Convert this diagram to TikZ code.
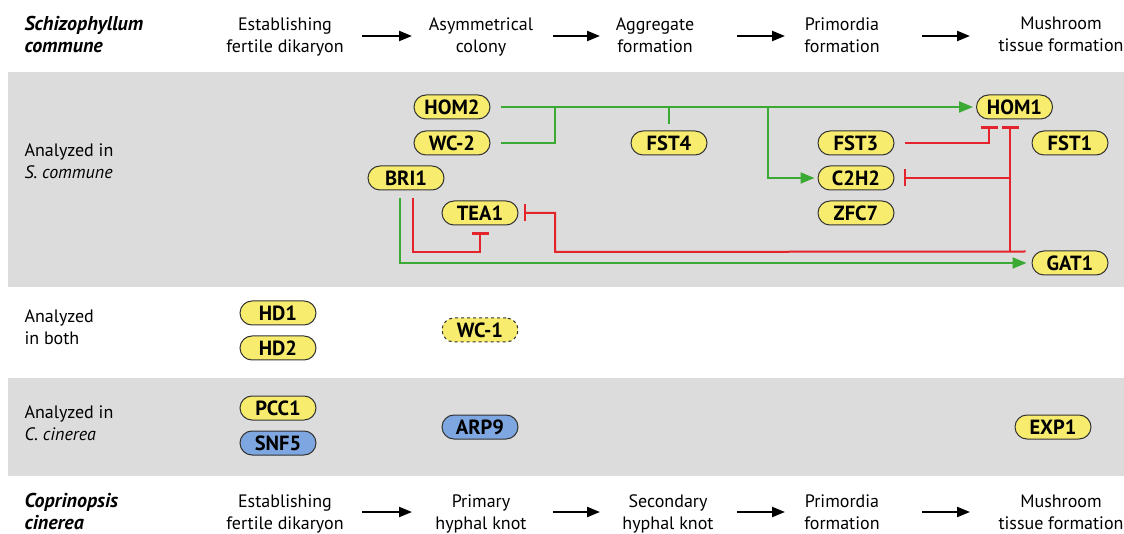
\documentclass[tikz,border=0pt]{standalone}
\usepackage{fontspec}
\setmainfont{PT Sans}
\usetikzlibrary{arrows.meta,calc}
\definecolor{band}{HTML}{DCDCDC}
\definecolor{pillY}{HTML}{F7EC6E}
\definecolor{pillB}{HTML}{7EA6E0}
\definecolor{grn}{HTML}{3BAA35}
\definecolor{rd}{HTML}{E3242B}
\begin{document}
\begin{tikzpicture}[x=1pt,y=-1pt,
 pill/.style={draw=black!80, line width=1pt, fill=pillY, rounded corners=12pt, minimum width=76pt, minimum height=24pt, inner sep=0pt, font=\fontsize{20.5}{21}\selectfont\bfseries},
 bluepill/.style={pill, fill=pillB},
 act/.style={draw=grn, line width=2pt, -{Triangle[length=14pt,width=11pt]}},
 actline/.style={draw=grn, line width=2pt},
 inh/.style={draw=rd, line width=2pt, -{Bar[width=17pt,line width=2.4pt]}},
 hdr/.style={font=\fontsize{18}{22}\selectfont, align=center, execute at begin node=\strut, execute at end node=\strut},
 side/.style={font=\fontsize{18}{22}\selectfont, align=left, anchor=west, execute at begin node=\strut, execute at end node=\strut},
 spec/.style={side, font=\fontsize{20}{22}\selectfont\bfseries\itshape},
 stage/.style={draw=black, -{Triangle[length=13pt,width=10pt]}, line width=2.2pt}
]
\useasboundingbox (0,0) rectangle (1124,534);
\fill[band] (8,72) rectangle (1124,287);
\fill[band] (8,378) rectangle (1124,476);

% headers top
\node[spec] (sc) at (21,38) {Schizophyllum\\commune};
\node[hdr] (t1) at (285,38) {Establishing\\fertile dikaryon};
\node[hdr] (t2) at (481,38) {Asymmetrical\\colony};
\node[hdr] (t3) at (655,38) {Aggregate\\formation};
\node[hdr] (t4) at (842,38) {Primordia\\formation};
\node[hdr] (t5) at (1061,38) {Mushroom\\tissue formation};
\coordinate (ta1) at (362,36); \coordinate (tb1) at (412,36);
\coordinate (ta2) at (553,36); \coordinate (tb2) at (600,36);
\coordinate (ta3) at (737,36); \coordinate (tb3) at (785,36);
\coordinate (ta4) at (922,36); \coordinate (tb4) at (970,36);
\foreach \i in {1,...,4} {\draw[stage] (ta\i) -- (tb\i);}

% headers bottom
\node[spec] (cc) at (21,515) {Coprinopsis\\cinerea};
\node[hdr] (u1) at (285,515) {Establishing\\fertile dikaryon};
\node[hdr] (u2) at (481,515) {Primary\\hyphal knot};
\node[hdr] (u3) at (668,515) {Secondary\\hyphal knot};
\node[hdr] (u4) at (842,515) {Primordia\\formation};
\node[hdr] (u5) at (1061,515) {Mushroom\\tissue formation};
\coordinate (ua1) at (362,512); \coordinate (ub1) at (412,512);
\coordinate (ua2) at (553,512); \coordinate (ub2) at (600,512);
\coordinate (ua3) at (737,512); \coordinate (ub3) at (785,512);
\coordinate (ua4) at (922,512); \coordinate (ub4) at (970,512);
\foreach \i in {1,...,4} {\draw[stage] (ua\i) -- (ub\i);}

% side labels
\node[side] (l1) at (21,164) {Analyzed in\\\textit{S. commune}};
\node[side] (l2) at (21,330) {Analyzed\\in both};
\node[side] (l3) at (21,426) {Analyzed in\\\textit{C. cinerea}};

% nodes
\node[pill] (HOM2) at (452,107) {HOM2};
\node[pill] (WC2) at (452,143) {WC-2};
\node[pill] (BRI1) at (406,178) {BRI1};
\node[pill] (TEA1) at (480,213) {TEA1};
\node[pill] (FST4) at (669,143) {FST4};
\node[pill] (HOM1) at (1014.5,107) {HOM1};
\node[pill] (FST3) at (856,143) {FST3};
\node[pill] (FST1) at (1070,143) {FST1};
\node[pill] (C2H2) at (856,178) {C2H2};
\node[pill] (ZFC7) at (856,213) {ZFC7};
\node[pill] (GAT1) at (1070,263) {GAT1};
\node[pill] (HD1) at (278,313) {HD1};
\node[pill] (HD2) at (278,348) {HD2};
\node[pill, dashed] (WC1) at (480,330) {WC-1};
\node[pill] (PCC1) at (278,408) {PCC1};
\node[bluepill] (SNF5) at (278,443) {SNF5};
\node[bluepill] (ARP9) at (480,427) {ARP9};
\node[pill] (EXP1) at (1053,427) {EXP1};

% junctions
\coordinate (j1) at (555,107);
\coordinate (j2) at (FST4.north |- HOM2.east);
\coordinate (j3) at (768,107);
\coordinate (r1) at (555,252);
\coordinate (r2) at (1010,252);
\coordinate (r3) at (1010,178);
\coordinate (r4) at (TEA1.south |- r1);

% green activations
\draw[act] ([xshift=10pt]HOM2.east) -- ([xshift=-3pt]HOM1.west);
\draw[actline] ([xshift=10pt]WC2.east) -| (j1);
\draw[actline] (j2) -- ([yshift=6pt]FST4.north);
\draw[act] (j3) |- ([xshift=-3pt]C2H2.west);
\draw[act] ([xshift=-6pt,yshift=-8pt]BRI1.south) |- ([xshift=-5pt]GAT1.west);

% red inhibitions
\draw[inh] ([xshift=7pt,yshift=-8pt]BRI1.south) |- (r4) -- ([yshift=-7pt]TEA1.south);
\draw[inh] ([xshift=-6pt,yshift=-1pt]GAT1.north west) -- (r1) |- ([xshift=5pt]TEA1.east);
\draw[inh] (r2) -- ([xshift=-4.5pt,yshift=-7pt]HOM1.south);
\draw[inh] (r3) -- ([xshift=9pt]C2H2.east);
\draw[inh] ([xshift=10pt]FST3.east) -| ([xshift=-25.5pt,yshift=-7pt]HOM1.south);
\end{tikzpicture}
\end{document}
